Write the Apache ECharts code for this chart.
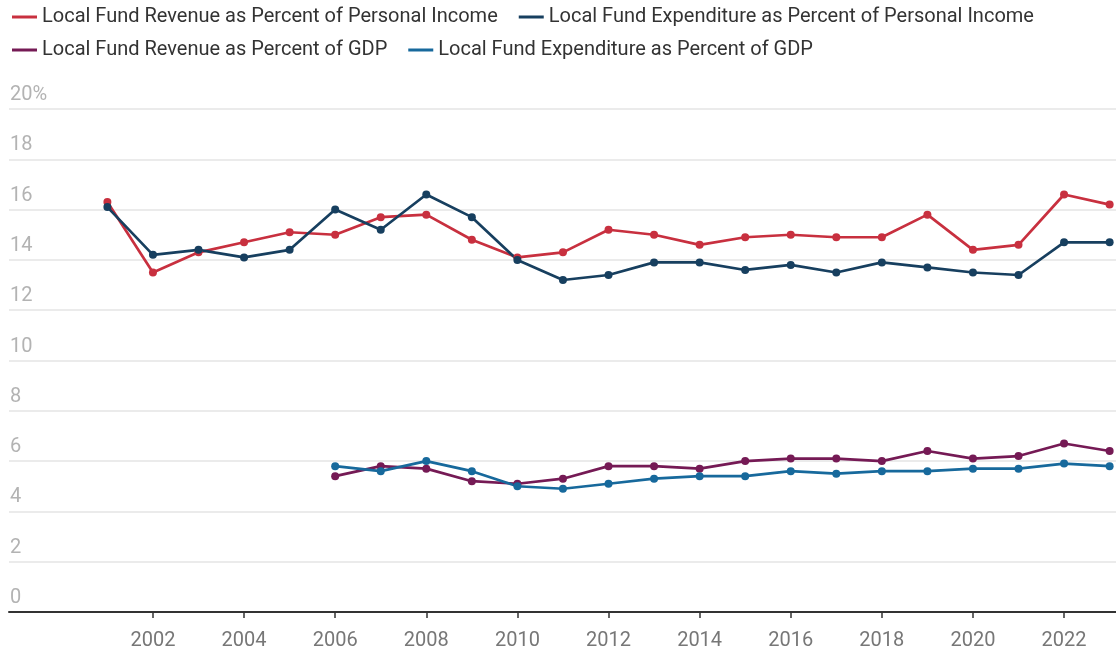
<!DOCTYPE html>
<html>
<head>
<meta charset="utf-8">
<script src="https://cdn.jsdelivr.net/npm/echarts@6/dist/echarts.min.js"></script>
<style>
  html, body { margin: 0; padding: 0; background: #fff; }
  #chart { width: 1116px; height: 653px; }
</style>
</head>
<body>
<div id="chart"></div>
<script>
var years = [2001, 2002, 2003, 2004, 2005, 2006, 2007, 2008, 2009, 2010, 2011, 2012,
             2013, 2014, 2015, 2016, 2017, 2018, 2019, 2020, 2021, 2022, 2023];

var revenuePersonal = [16.3, 13.5, 14.3, 14.7, 15.1, 15.0, 15.7, 15.8, 14.8, 14.1, 14.3, 15.2,
                       15.0, 14.6, 14.9, 15.0, 14.9, 14.9, 15.8, 14.4, 14.6, 16.6, 16.2];
var expendPersonal = [16.1, 14.2, 14.4, 14.1, 14.4, 16.0, 15.2, 16.6, 15.7, 14.0, 13.2, 13.4,
                      13.9, 13.9, 13.6, 13.8, 13.5, 13.9, 13.7, 13.5, 13.4, 14.7, 14.7];
var revenueGdp = [null, null, null, null, null, 5.4, 5.8, 5.7, 5.2, 5.1, 5.3, 5.8,
                  5.8, 5.7, 6.0, 6.1, 6.1, 6.0, 6.4, 6.1, 6.2, 6.7, 6.4];
var expendGdp = [null, null, null, null, null, 5.8, 5.6, 6.0, 5.6, 5.0, 4.9, 5.1,
                 5.3, 5.4, 5.4, 5.6, 5.5, 5.6, 5.6, 5.7, 5.7, 5.9, 5.8];

var yearTicks = [2002, 2004, 2006, 2008, 2010, 2012, 2014, 2016, 2018, 2020, 2022];

var names = [
    'Local Fund Revenue as Percent of Personal Income',
    'Local Fund Expenditure as Percent of Personal Income',
    'Local Fund Revenue as Percent of GDP',
    'Local Fund Expenditure as Percent of GDP'
];
var colors = ['#c8303f', '#173f5f', '#751a55', '#17699c'];

function pairs(values) {
    return years.map(function (y, i) { return [y, values[i]]; });
}

function makeSeries(idx, values) {
    return {
        name: names[idx],
        type: 'line',
        data: pairs(values),
        symbol: 'circle',
        symbolSize: 8,
        connectNulls: false,
        lineStyle: { width: 2.7, color: colors[idx] },
        itemStyle: { color: colors[idx] }
    };
}

var chart = echarts.init(document.getElementById('chart'));

var legendText = { fontFamily: 'Roboto', fontSize: 20, color: '#333' };

var option = {
    animation: false,
    textStyle: { fontFamily: 'Roboto' },
    legend: [
        {
            data: [names[0], names[1]],
            left: 7,
            top: 2,
            icon: 'rect',
            itemWidth: 25,
            itemHeight: 3,
            itemGap: 21,
            textStyle: legendText
        },
        {
            data: [names[2], names[3]],
            left: 7,
            top: 35,
            icon: 'rect',
            itemWidth: 25,
            itemHeight: 3,
            itemGap: 21,
            textStyle: legendText
        }
    ],
    grid: {
        left: 9,
        right: 0,
        top: 109,
        bottom: 41,
        outerBoundsMode: 'none'
    },
    xAxis: {
        type: 'value',
        min: 1998.84,
        max: 2023.14,
        splitLine: { show: false },
        axisLine: { show: true, lineStyle: { color: '#333', width: 2 } },
        axisTick: { show: true, customValues: yearTicks, length: 6, lineStyle: { color: '#333', width: 1.5 } },
        axisLabel: {
            customValues: yearTicks,
            color: '#777',
            fontSize: 20,
            margin: 19,
            formatter: function (v) { return String(v); }
        }
    },
    yAxis: {
        type: 'value',
        min: 0,
        max: 20,
        interval: 2,
        axisLine: { show: false },
        axisTick: { show: false },
        splitLine: { lineStyle: { color: '#e5e5e5', width: 1.5 } },
        axisLabel: {
            inside: true,
            margin: 1,
            verticalAlign: 'bottom',
            padding: [0, 0, 4, 0],
            color: '#b3b3b3',
            fontSize: 20,
            formatter: function (v) { return v === 20 ? '20%' : String(v); }
        }
    },
    series: [
        makeSeries(0, revenuePersonal),
        makeSeries(1, expendPersonal),
        makeSeries(2, revenueGdp),
        makeSeries(3, expendGdp)
    ]
};

chart.setOption(option);
</script>
</body>
</html>
